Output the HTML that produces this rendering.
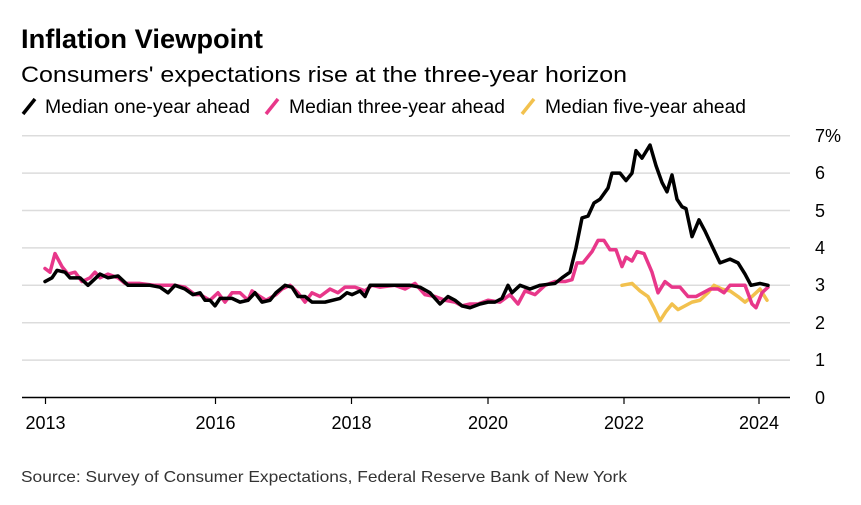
<!DOCTYPE html>
<html><head><meta charset="utf-8"><style>
body{margin:0;background:#fff;font-family:"Liberation Sans",Arial,sans-serif;}
</style></head><body>
<svg width="861" height="500" viewBox="0 0 861 500" xmlns="http://www.w3.org/2000/svg" font-family="Liberation Sans, Arial, sans-serif">
<rect width="861" height="500" fill="#fff"/>
<text x="21" y="48" font-size="27" font-weight="bold" fill="#000" textLength="242" lengthAdjust="spacingAndGlyphs">Inflation Viewpoint</text>
<text x="21" y="82" font-size="22" fill="#000" textLength="606" lengthAdjust="spacingAndGlyphs">Consumers' expectations rise at the three-year horizon</text>
<g font-size="19" fill="#000">
<line x1="23" y1="114" x2="35" y2="99" stroke="#000" stroke-width="3.5"/>
<text x="45" y="113" textLength="205" lengthAdjust="spacingAndGlyphs">Median one-year ahead</text>
<line x1="266" y1="114" x2="278" y2="99" stroke="#e8378a" stroke-width="3.5"/>
<text x="289" y="113" textLength="216" lengthAdjust="spacingAndGlyphs">Median three-year ahead</text>
<line x1="522" y1="114" x2="534" y2="99" stroke="#f2c14e" stroke-width="3.5"/>
<text x="545" y="113" textLength="201" lengthAdjust="spacingAndGlyphs">Median five-year ahead</text>
</g>
<g stroke="#dcdcdc" stroke-width="1.5">
<line x1="22" y1="135.7" x2="790" y2="135.7"/>
<line x1="22" y1="173.1" x2="790" y2="173.1"/>
<line x1="22" y1="210.5" x2="790" y2="210.5"/>
<line x1="22" y1="247.9" x2="790" y2="247.9"/>
<line x1="22" y1="285.3" x2="790" y2="285.3"/>
<line x1="22" y1="322.7" x2="790" y2="322.7"/>
<line x1="22" y1="360.1" x2="790" y2="360.1"/>
</g>
<g font-size="18" fill="#000">
<text x="815" y="142">7%</text>
<text x="815" y="179">6</text>
<text x="815" y="217">5</text>
<text x="815" y="254">4</text>
<text x="815" y="291">3</text>
<text x="815" y="329">2</text>
<text x="815" y="366">1</text>
<text x="815" y="404">0</text>
</g>
<line x1="22" y1="397.5" x2="790" y2="397.5" stroke="#000" stroke-width="1.5"/>
<g stroke="#000" stroke-width="1.2">
<line x1="45.5" y1="397.5" x2="45.5" y2="404"/>
<line x1="215.5" y1="397.5" x2="215.5" y2="404"/>
<line x1="351.5" y1="397.5" x2="351.5" y2="404"/>
<line x1="488" y1="397.5" x2="488" y2="404"/>
<line x1="624" y1="397.5" x2="624" y2="404"/>
<line x1="759" y1="397.5" x2="759" y2="404"/>
</g>
<g font-size="18" fill="#000" text-anchor="middle">
<text x="45.5" y="429">2013</text>
<text x="215.5" y="429">2016</text>
<text x="351.5" y="429">2018</text>
<text x="488" y="429">2020</text>
<text x="624" y="429">2022</text>
<text x="759" y="429">2024</text>
</g>
<text x="21" y="482" font-size="16" fill="#333" textLength="606" lengthAdjust="spacingAndGlyphs">Source: Survey of Consumer Expectations, Federal Reserve Bank of New York</text>
<g transform="translate(0,397.5) scale(1,-37.4)" fill="none" stroke-width="3.5" stroke-linejoin="round" stroke-linecap="round">
<polyline vector-effect="non-scaling-stroke" stroke="#f2c14e" points="622,3.0 632,3.05 640,2.85 648,2.7 654,2.4 660,2.05 666,2.3 672,2.5 678,2.35 685,2.45 692,2.55 700,2.6 708,2.8 714,3.0 722,2.9 730,2.85 738,2.7 745,2.55 752,2.7 760,2.9 767,2.6"/>
<polyline vector-effect="non-scaling-stroke" stroke="#e8378a" points="45,3.45 50,3.35 55,3.85 62,3.5 68,3.3 75,3.35 82,3.1 90,3.2 95,3.35 100,3.2 108,3.3 118,3.2 125,3.05 140,3.05 155,3.0 165,3.0 175,3.0 185,2.95 195,2.75 200,2.75 210,2.6 218,2.8 225,2.55 232,2.8 240,2.8 248,2.6 252,2.85 260,2.7 266,2.6 276,2.75 282,2.9 290,3.0 298,2.8 305,2.55 312,2.8 320,2.7 330,2.9 338,2.8 345,2.95 355,2.95 365,2.85 372,3.0 380,2.95 395,3.0 405,2.9 415,3.05 425,2.75 435,2.7 445,2.6 455,2.55 462,2.45 470,2.5 478,2.5 488,2.6 500,2.55 510,2.75 518,2.5 525,2.85 535,2.75 545,3.0 555,3.1 565,3.1 572,3.15 577,3.6 583,3.6 592,3.9 598,4.2 604,4.2 610,3.95 616,3.95 622,3.5 626,3.75 632,3.65 637,3.9 644,3.85 648,3.6 652,3.35 658,2.8 665,3.1 672,2.95 680,2.95 688,2.7 696,2.7 703,2.8 710,2.9 718,2.9 724,2.8 730,3.0 745,3.0 752,2.5 756,2.4 762,2.8 768,2.95"/>
<polyline vector-effect="non-scaling-stroke" stroke="#000" points="45,3.1 52,3.2 57,3.4 65,3.35 70,3.2 80,3.2 88,3.0 100,3.3 108,3.2 118,3.25 128,3.0 150,3.0 160,2.95 168,2.8 175,3.0 185,2.9 193,2.75 200,2.8 205,2.6 210,2.6 215,2.45 220,2.65 232,2.65 240,2.55 248,2.6 255,2.8 262,2.55 270,2.6 276,2.8 285,3.0 292,2.95 298,2.7 305,2.7 312,2.55 325,2.55 340,2.65 347,2.8 352,2.75 360,2.85 365,2.7 370,3.0 390,3.0 400,3.0 410,3.0 420,2.95 430,2.8 440,2.5 448,2.7 455,2.6 462,2.45 470,2.4 480,2.5 488,2.55 495,2.55 502,2.65 508,3.0 512,2.8 520,3.0 530,2.9 540,3.0 555,3.05 562,3.2 570,3.35 576,4.0 582,4.8 588,4.85 594,5.2 600,5.3 608,5.6 612,6.0 620,6.0 626,5.8 632,6.0 636,6.6 642,6.4 650,6.75 656,6.2 662,5.75 667,5.5 672,5.95 677,5.3 682,5.1 686,5.05 692,4.3 699,4.75 705,4.45 712,4.05 720,3.6 730,3.7 738,3.6 745,3.3 751,3.0 760,3.05 768,3.0"/>
</g>
</svg>
</body></html>
